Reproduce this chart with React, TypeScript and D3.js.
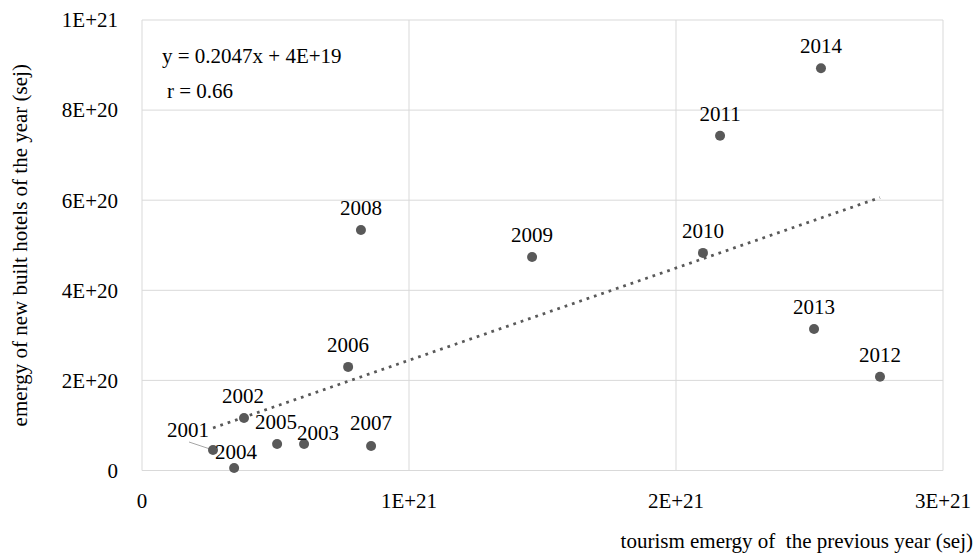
import React from 'react';
import * as d3 from 'd3';

const years = [2001, 2002, 2003, 2004, 2005, 2006, 2007, 2008, 2009, 2010, 2011, 2012, 2013, 2014];
const tourismEmergy = [0.266e21, 0.382e21, 0.607e21, 0.345e21, 0.506e21, 0.772e21, 0.858e21, 0.82e21, 1.461e21, 2.101e21, 2.165e21, 2.764e21, 2.517e21, 2.543e21];
const hotelEmergy = [0.455e20, 1.165e20, 0.59e20, 0.055e20, 0.59e20, 2.3e20, 0.545e20, 5.34e20, 4.74e20, 4.83e20, 7.43e20, 2.08e20, 3.14e20, 8.93e20];
const xTicks = [0, 1e21, 2e21, 3e21];
const xTickLabels = ['0', '1E+21', '2E+21', '3E+21'];
const yTicks = [0, 2e20, 4e20, 6e20, 8e20, 1e21];
const yTickLabels = ['0', '2E+20', '4E+20', '6E+20', '8E+20', '1E+21'];
const slope = 0.2047;
const intercept = 4e19;

// label nudges (px) relative to the point
const labelNudge: Record<number, [number, number]> = {
  2001: [-25, -13],
  2002: [-1, -15],
  2003: [14, -4],
  2004: [2, -9],
  2005: [-1, -15],
  2007: [0, -16],
};

const App: React.FC = () => {
  const width = 976;
  const height = 555;
  const x = d3.scaleLinear().domain([0, 3e21]).range([142, 943]);
  const y = d3.scaleLinear().domain([0, 1e21]).range([470.5, 20]);
  const font = '"Liberation Serif", "Times New Roman", serif';

  const pts = years.map((yr, i) => ({ yr, x: tourismEmergy[i], y: hotelEmergy[i] }));
  const xMin = d3.min(tourismEmergy) as number;
  const xMax = d3.max(tourismEmergy) as number;
  const trend = d3.line<number>().x((d) => x(d)).y((d) => y(slope * d + intercept));

  const p2001 = pts[0];

  return (
    <svg width={width} height={height} style={{ position: 'absolute', left: 0, top: 0 }} fontFamily={font}>
      <rect width={width} height={height} fill="#fff" />
      {yTicks.map((t) => (
        <line key={'gy' + t} x1={x(0)} x2={x(3e21)} y1={y(t)} y2={y(t)} stroke="#d9d9d9" strokeWidth={1} />
      ))}
      {xTicks.map((t) => (
        <line key={'gx' + t} x1={x(t)} x2={x(t)} y1={y(0)} y2={y(1e21)} stroke="#d9d9d9" strokeWidth={1} />
      ))}
      {yTicks.map((t, i) => (
        <text key={'ty' + t} x={118} y={y(t)} dy="0.35em" textAnchor="end" fontSize={21} fill="#000">
          {yTickLabels[i]}
        </text>
      ))}
      {xTicks.map((t, i) => (
        <text key={'tx' + t} x={x(t)} y={508} textAnchor="middle" fontSize={21} fill="#000">
          {xTickLabels[i]}
        </text>
      ))}
      <path
        d={trend([xMin, xMax]) || ''}
        fill="none"
        stroke="#595959"
        strokeWidth={2.75}
        strokeDasharray="2.75 5"
      />
      <line
        x1={x(p2001.x) - 24}
        y1={y(p2001.y) - 8}
        x2={x(p2001.x) - 3}
        y2={y(p2001.y) - 1}
        stroke="#a6a6a6"
        strokeWidth={1}
      />
      {pts.map((p) => (
        <circle key={'c' + p.yr} cx={x(p.x)} cy={y(p.y)} r={5} fill="#595959" />
      ))}
      {pts.map((p) => {
        const [dx, dy] = labelNudge[p.yr] || [0, -15];
        return (
          <text key={'l' + p.yr} x={x(p.x) + dx} y={y(p.y) + dy} textAnchor="middle" fontSize={21} fill="#000">
            {p.yr}
          </text>
        );
      })}
      <text x={162} y={63} fontSize={21} fill="#000">y = 0.2047x + 4E+19</text>
      <text x={167} y={98} fontSize={21} fill="#000">r = 0.66</text>
      <text
        transform={`translate(27, ${(y(0) + y(1e21)) / 2}) rotate(-90)`}
        textAnchor="middle"
        fontSize={21}
        fill="#000"
      >
        emergy of new built hotels of the year (sej)
      </text>
      <text x={973} y={548} textAnchor="end" fontSize={21} fill="#000" style={{ whiteSpace: 'pre' }}>
        tourism emergy of  the previous year (sej)
      </text>
    </svg>
  );
};

export default App;
